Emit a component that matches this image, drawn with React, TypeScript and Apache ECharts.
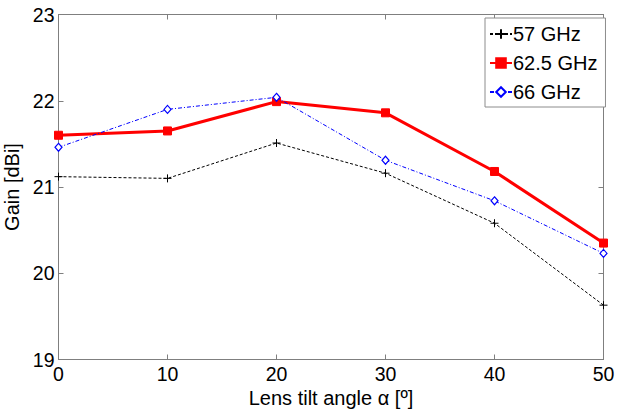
import React, { useEffect, useRef } from "react";
import * as echarts from "echarts";

// Lens tilt angles (degrees)
const angles = [0, 10, 20, 30, 40, 50];
// Measured gain in dBi for each frequency
const gain57 = [21.12, 21.1, 21.51, 21.16, 20.58, 19.63];
const gain625 = [21.6, 21.65, 21.99, 21.86, 21.18, 20.35];
const gain66 = [21.46, 21.9, 22.04, 21.31, 20.84, 20.23];
const seriesNames = ["57 GHz", "62.5 GHz", "66 GHz"];
const yTicks = [19, 20, 21, 22, 23];
const xTicks = [0, 10, 20, 30, 40, 50];

const FONT = "'Liberation Sans', Arial, sans-serif";
const FRAME = "#7f7f7f";

const pairs = (ys: number[]) => angles.map((a, i) => [a, ys[i]]);

export default function App() {
  const ref = useRef<HTMLDivElement>(null);

  useEffect(() => {
    if (!ref.current) return;
    const chart = echarts.init(ref.current, undefined, { renderer: "svg" });

    const baseAxis = {
      axisLine: { show: true, onZero: false, lineStyle: { color: FRAME, width: 1 } },
      axisTick: { show: true, inside: true, length: 5, lineStyle: { color: FRAME } },
      splitLine: { show: false },
    };

    chart.setOption({
      animation: false,
      backgroundColor: "#ffffff",
      grid: {
        left: 58.5,
        right: 13.5,
        top: 14.5,
        bottom: 51.5,
        containLabel: false,
        outerBoundsMode: "none",
      },
      legend: {
        data: seriesNames,
        orient: "vertical",
        left: 485,
        top: 18,
        padding: [6, 8, 5, 4],
        itemGap: 9,
        itemWidth: 22,
        itemHeight: 12,
        backgroundColor: "#ffffff",
        borderColor: "#8c8c8c",
        borderWidth: 1,
        borderRadius: 0,
        textStyle: { fontFamily: FONT, fontSize: 20, color: "#000", padding: [0, 0, 0, -4] },
      },
      xAxis: [
        {
          ...baseAxis,
          type: "value",
          min: 0,
          max: 50,
          interval: 10,
          position: "bottom",
          name: "Lens tilt angle α [º]",
          nameLocation: "middle",
          nameGap: 28,
          nameTextStyle: { fontFamily: FONT, fontSize: 20, color: "#000" },
          axisLabel: {
            fontFamily: FONT,
            fontSize: 19.5,
            color: "#000",
            margin: 4,
            formatter: (v: number) => (xTicks.includes(v) ? String(v) : ""),
          },
        },
        {
          ...baseAxis,
          type: "value",
          min: 0,
          max: 50,
          interval: 10,
          position: "top",
          axisLabel: { show: false },
        },
      ],
      yAxis: [
        {
          ...baseAxis,
          type: "value",
          min: 19,
          max: 23,
          interval: 1,
          position: "left",
          name: "Gain [dBi]",
          nameLocation: "middle",
          nameGap: 30,
          nameTextStyle: { fontFamily: FONT, fontSize: 20, color: "#000" },
          axisLabel: {
            fontFamily: FONT,
            fontSize: 19.5,
            color: "#000",
            margin: 4,
            formatter: (v: number) => (yTicks.includes(v) ? String(v) : ""),
          },
        },
        {
          ...baseAxis,
          type: "value",
          min: 19,
          max: 23,
          interval: 1,
          position: "right",
          axisLabel: { show: false },
        },
      ],
      series: [
        {
          name: seriesNames[0],
          type: "line",
          data: pairs(gain57),
          symbol: "path://M0,5L10,5M5,0L5,10",
          symbolSize: 8,
          lineStyle: { color: "#000", width: 1, type: [3, 2] },
          itemStyle: { color: "#000", borderColor: "#000", borderWidth: 1 },
          z: 3,
        },
        {
          name: seriesNames[1],
          type: "line",
          data: pairs(gain625),
          symbol: "rect",
          symbolSize: 8,
          lineStyle: { color: "#ff0000", width: 3, type: "solid" },
          itemStyle: { color: "#ff0000", borderColor: "#ff0000", borderWidth: 1 },
          z: 2,
        },
        {
          name: seriesNames[2],
          type: "line",
          data: pairs(gain66),
          symbol: "diamond",
          symbolSize: [7, 8],
          lineStyle: { color: "#0000ff", width: 1, type: [4, 2, 1, 2] },
          itemStyle: { color: "#ffffff", borderColor: "#0000ff", borderWidth: 1.2 },
          z: 4,
        },
      ],
    });

    return () => chart.dispose();
  }, []);

  return (
    <div
      ref={ref}
      style={{ position: "absolute", left: 0, top: 0, width: 617, height: 411 }}
    />
  );
}
